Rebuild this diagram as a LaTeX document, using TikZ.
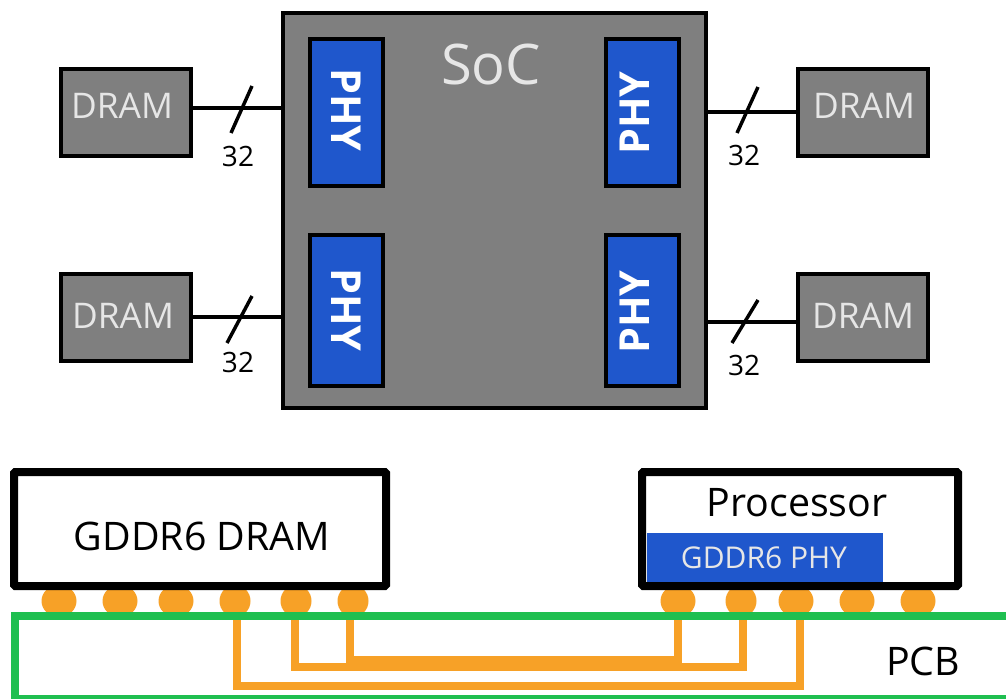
\documentclass[tikz,border=0pt]{standalone}
\usepackage{fontspec}
\setmainfont{Open Sans}
\usetikzlibrary{calc,shapes.geometric}
\definecolor{chipgray}{HTML}{7F7F7F}
\definecolor{phyblue}{HTML}{1F57CC}
\definecolor{padorange}{HTML}{F7A127}
\definecolor{pcbgreen}{HTML}{1FBF50}
\definecolor{lighttext}{HTML}{E6E6E6}
\tikzset{
  x=0.75pt,y=-0.75pt,
  sized/.style 2 args={minimum width=#1*0.75pt,minimum height=#2*0.75pt},
  socbox/.style={draw=black,fill=chipgray,line width=3pt,inner sep=0pt,sized={423}{395}},
  dram/.style={draw=black,fill=chipgray,line width=3pt,inner sep=0pt,sized={130}{87}},
  dramtext/.style={inner sep=0pt,text=lighttext,font=\fontsize{26.5}{30}\selectfont},
  phy/.style={draw=black,fill=phyblue,line width=3pt,inner sep=0pt,sized={73}{#1},text=white},
  phytext/.style={text=white,font=\fontsize{31}{35}\selectfont\bfseries,inner sep=0pt},
  pkg/.style={draw=black,fill=white,line width=6pt,rounded corners=1pt,inner sep=0pt},
  pad/.style={ellipse,fill=padorange,inner sep=0pt,sized={#1}{32}},
  trace/.style={draw=padorange,line width=6pt},
  pcbline/.style={draw=pcbgreen,line width=6pt},
  wire/.style={draw=black,line width=2.6pt},
  slash/.style={draw=black,line width=2.6pt},
  buslabel/.style={inner sep=0pt,font=\fontsize{21}{25}\selectfont},
  biglabel/.style={inner sep=0pt,font=\fontsize{29.5}{34}\selectfont},
}
\begin{document}
\begin{tikzpicture}
\useasboundingbox[fill=white] (0,0) rectangle (1006,699);
% top diagram
\node[socbox] (soc) at (494.5,210.5) {};
\node[inner sep=0pt,text=lighttext,font=\fontsize{42}{46}\selectfont] (soclabel) at (491,64) {SoC};
\node[phy=147] (p1) at (346.5,112.5) {};
\node[phy=151] (p2) at (346.5,310.5) {};
\node[phy=147] (p3) at (642.5,112.5) {};
\node[phy=151] (p4) at (642.5,310.5) {};
\node[phytext,rotate=-90] (t1) at (346,110) {PHY};
\node[phytext,rotate=-90] (t2) at (346,310) {PHY};
\node[phytext,rotate=90] (t3) at (635,113) {PHY};
\node[phytext,rotate=90] (t4) at (635,312) {PHY};
\node[dram] (d1) at (126,112.5) {};
\node[dram] (d2) at (126,317.5) {};
\node[dram] (d3) at (863,112.5) {};
\node[dram] (d4) at (863,317.5) {};
\node[dramtext] (dt1) at (122,106) {DRAM};
\node[dramtext] (dt2) at (123,316) {DRAM};
\node[dramtext] (dt3) at (864,106) {DRAM};
\node[dramtext] (dt4) at (863,316) {DRAM};
\coordinate (w1) at (d1.east |- 0,108);
\coordinate (w2) at (d2.east |- 0,317);
\coordinate (w3) at (d3.west |- 0,112);
\coordinate (w4) at (d4.west |- 0,322);
\draw[wire] (w1) -- (soc.west |- w1);
\draw[wire] (w2) -- (soc.west |- w2);
\draw[wire] (w3) -- (soc.east |- w3);
\draw[wire] (w4) -- (soc.east |- w4);
\coordinate (s1a) at (231,133); \coordinate (s1b) at (252,86);
\coordinate (s2a) at (227,343); \coordinate (s2b) at (252,296);
\coordinate (s3a) at (737,133); \coordinate (s3b) at (758,87);
\coordinate (s4a) at (732,343); \coordinate (s4b) at (758,300);
\draw[slash] (s1a) -- (s1b);
\draw[slash] (s2a) -- (s2b);
\draw[slash] (s3a) -- (s3b);
\draw[slash] (s4a) -- (s4b);
\node[buslabel] (n1) at (238,156) {32};
\node[buslabel] (n2) at (238,362) {32};
\node[buslabel] (n3) at (744,155) {32};
\node[buslabel] (n4) at (744,365) {32};
% cross-section: pads and traces under the package and PCB outlines
\node[pad=35] (l1) at (59,601) {};
\node[pad=35] (l2) at (120,601) {};
\node[pad=35] (l3) at (176,601) {};
\node[pad=31] (l4) at (235,601) {};
\node[pad=31] (l5) at (296,601) {};
\node[pad=31] (l6) at (353,601) {};
\node[pad=35] (r1) at (678,601) {};
\node[pad=31] (r2) at (741,601) {};
\node[pad=35] (r3) at (796,601) {};
\node[pad=35] (r4) at (857,601) {};
\node[pad=35] (r5) at (918,601) {};
\draw[trace] ($(l4)+(2,0)$) -- ++(0,85) -| ($(r3)+(4,0)$);
\draw[trace] ($(l5)+(-1,0)$) -- ++(0,66) -| ($(r2)+(2,0)$);
\draw[trace] ($(l6)+(-3,0)$) -- ++(0,59) -| ($(r1)+(0,0)$);
\node[pkg,sized={372}{114}] (dramchip) at (200,529) {};
\node[biglabel] (dramtext) at (202,536) {GDDR6 DRAM};
\node[pkg,sized={316}{114}] (proc) at (800,529) {};
\node[biglabel] (proctext) at (797,503) {Processor};
\node[fill=phyblue,inner sep=0pt,sized={236}{49}] (gphy) at (764.5,557.5) {};
\node[inner sep=0pt,text=lighttext,font=\fontsize{22.5}{26}\selectfont] (gphytext) at (764,558) {GDDR6 PHY};
\draw[pcbline] (1006,616) -- (15,616) -- (15,699) -- (1006,699);
\node[biglabel] (pcb) at (923,661) {PCB};
\end{tikzpicture}
\end{document}
